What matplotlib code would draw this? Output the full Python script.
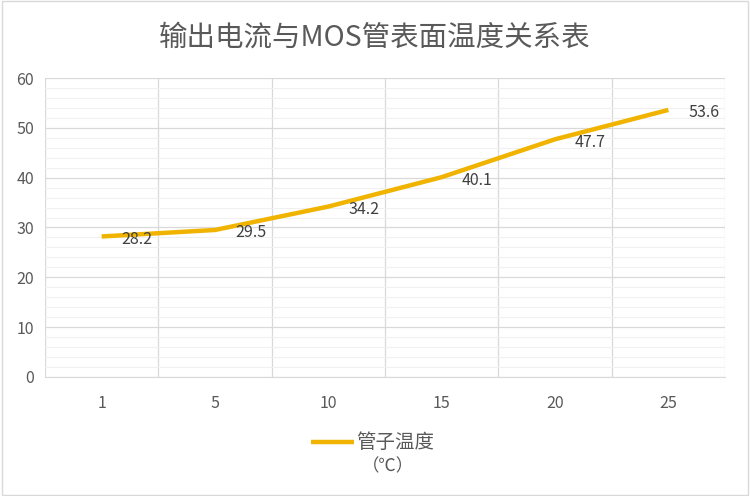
import numpy as np
import matplotlib
matplotlib.use("Agg")
import matplotlib.pyplot as plt
from matplotlib.patches import Rectangle

plt.rcParams['font.family'] = ['Noto Sans CJK SC', 'DejaVu Sans']

# data
categories = ["1", "5", "10", "15", "20", "25"]
temps = [28.2, 29.5, 34.2, 40.1, 47.7, 53.6]
title = "输出电流与MOS管表面温度关系表"
series_name = "管子温度"
series_unit = "（℃）"

line_color = "#F0B400"
text_color = "#595959"

fig = plt.figure(figsize=(7.5, 4.96), dpi=100)
ax = fig.add_axes([0.06, 0.24, 0.9067, 0.6027])

x = np.arange(len(categories))
ln, = ax.plot(x, temps, color=line_color, linewidth=3.2, solid_capstyle='butt',
              solid_joinstyle='round', label=series_name, zorder=3)

for xi, v in zip(x, temps):
    ax.annotate("%.1f" % v, (xi, v), xytext=(20, -3), textcoords='offset pixels',
                ha='left', va='center', fontsize=11.5, color="#404040", zorder=4)

ax.set_xlim(-0.5, len(categories) - 0.5)
ax.set_ylim(0, 60)
ax.set_xticks(x)
ax.set_xticklabels(categories)
ax.set_yticks(np.arange(0, 61, 10))
ax.set_yticks(np.arange(0, 61, 2), minor=True)
ax.set_xticks(np.arange(-0.5, len(categories), 1), minor=True)

ax.tick_params(axis='both', which='both', length=0, labelsize=11.5, labelcolor=text_color)
ax.tick_params(axis='x', pad=13)
ax.tick_params(axis='y', pad=8)

ax.grid(axis='y', which='minor', color='#F0F0F0', linewidth=0.8, zorder=0)
ax.grid(axis='y', which='major', color='#D9D9D9', linewidth=0.9, zorder=1)
ax.grid(axis='x', which='minor', color='#D9D9D9', linewidth=0.9, zorder=1)
ax.grid(axis='x', which='major', visible=False)

for s in ['top', 'right', 'left']:
    ax.spines[s].set_visible(False)
ax.spines['bottom'].set_color('#D9D9D9')

fig.text(0.5, 0.925, title, ha='center', va='center', fontsize=20.5, color=text_color)

leg = fig.legend(handles=[ln], loc='center', bbox_to_anchor=(0.497, 0.107),
                 frameon=False, fontsize=14, handlelength=2.2, handletextpad=0.15)
for t in leg.get_texts():
    t.set_color(text_color)
fig.text(0.517, 0.06, series_unit, ha='center', va='center', fontsize=12.5, color=text_color)

fig.patches.append(Rectangle((0.002, 0.003), 0.995, 0.994, transform=fig.transFigure,
                             fill=False, edgecolor='#D9D9D9', linewidth=1))

fig.savefig("out.png", dpi=100)
